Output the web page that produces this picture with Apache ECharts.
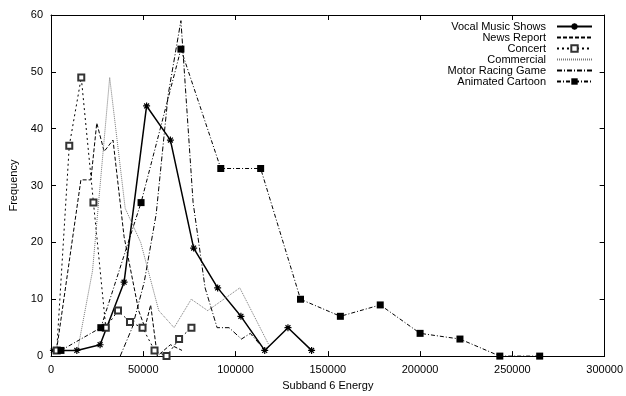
<!DOCTYPE html>
<html>
<head>
<meta charset="utf-8">
<script src="https://cdn.jsdelivr.net/npm/echarts@6/dist/echarts.min.js"></script>
<style>
  html, body { margin: 0; padding: 0; background: #fff; }
  #chart { width: 626px; height: 396px; }
</style>
</head>
<body>
<div id="chart"></div>
<script>
// Datos: [energia subbanda 6, frecuencia]
const seriesNames = ['Vocal Music Shows', 'News Report', 'Concert', 'Commercial', 'Motor Racing Game', 'Animated Cartoon'];

const vocal = [[1300,1],[14000,1],[26600,2],[39600,13],[51800,44],[64700,38],[77300,19],[90300,12],[102900,7],[115800,1],[128400,5],[141200,1]];
const news = [[3000,1],[16200,31],[21600,31],[24800,41],[28800,36],[33600,38],[39600,21],[47500,8],[50900,5],[54000,9],[57600,0],[64700,2],[71000,1]];
const concert = [[3100,1],[9900,37],[16400,49],[23000,27],[29700,5],[36300,8],[42800,6],[49600,5],[56100,1],[62600,0],[69400,3],[76100,5]];
const commercial = [[14400,1],[22500,15],[31800,49],[40200,26],[48600,20],[58400,8],[66700,5],[76000,10],[84900,8],[102300,12],[118000,2]];
const motor = [[37500,0],[44000,5],[50500,13],[57000,25],[63500,46],[70400,59],[77000,27],[83500,12],[90000,5],[96500,5],[103200,3],[108000,4],[113300,2]];
const cartoon = [[5400,1],[27000,5],[48800,27],[70400,54],[92000,33],[113600,33],[135200,10],[156800,7],[178400,9],[200000,4],[221600,3],[243200,0],[264800,0]];

const xTicks = [0, 300000, 50000];
const yTicks = [0, 60, 10];

const FONT = '"Liberation Sans", Arial, sans-serif';
const asterisk = 'path://M0 5L10 5M5 0L5 10M1.5 1.5L8.5 8.5M8.5 1.5L1.5 8.5';

const chart = echarts.init(document.getElementById('chart'));

function axisCommon(showLabels) {
    return {
        axisLine: { show: true, onZero: false, lineStyle: { color: '#000', width: 1 } },
        axisTick: { show: true, inside: true, length: 5, lineStyle: { color: '#000' } },
        axisLabel: {
            show: showLabels, color: '#000', fontSize: 11, fontFamily: FONT,
            formatter: function(v) { return String(v); }
        },
        splitLine: { show: false }
    };
}

// Series sin marcador: simbolo transparente para que la leyenda solo muestre la linea
const noMark = { color: 'rgba(0,0,0,0)', borderWidth: 0 };

chart.setOption({
    animation: false,
    backgroundColor: '#fff',
    grid: { left: 50, right: 20, top: 15, bottom: 34 },
    legend: {
        orient: 'vertical',
        right: 33,
        top: 21,
        padding: 0,
        align: 'right',
        itemWidth: 35,
        itemHeight: 8,
        itemGap: 0,
        textStyle: { color: '#000', fontSize: 11, lineHeight: 11, fontFamily: FONT, padding: [0, 6, 0, 0] },
        data: seriesNames
    },
    xAxis: [
        Object.assign({
            type: 'value', min: xTicks[0], max: xTicks[1], interval: xTicks[2],
            name: 'Subband 6 Energy', nameLocation: 'middle', nameGap: 22,
            nameTextStyle: { color: '#000', fontSize: 11, fontFamily: FONT }
        }, axisCommon(true)),
        Object.assign({
            type: 'value', position: 'top', min: xTicks[0], max: xTicks[1], interval: xTicks[2]
        }, axisCommon(false))
    ],
    yAxis: [
        Object.assign({
            type: 'value', min: yTicks[0], max: yTicks[1], interval: yTicks[2],
            name: 'Frequency', nameLocation: 'middle', nameGap: 32,
            nameTextStyle: { color: '#000', fontSize: 11, fontFamily: FONT }
        }, axisCommon(true)),
        Object.assign({
            type: 'value', position: 'right', min: yTicks[0], max: yTicks[1], interval: yTicks[2]
        }, axisCommon(false))
    ],
    series: [
        {
            name: seriesNames[0], type: 'line', data: vocal,
            symbol: asterisk, symbolSize: 7,
            lineStyle: { color: '#000', width: 1.5, type: 'solid' },
            itemStyle: { color: '#000', borderColor: '#000', borderWidth: 1.2 }
        },
        {
            name: seriesNames[1], type: 'line', data: news,
            symbol: 'none',
            lineStyle: { color: '#000', width: 1, type: [4, 2] },
            itemStyle: noMark
        },
        {
            name: seriesNames[2], type: 'line', data: concert,
            symbol: 'emptyRect', symbolSize: 6,
            lineStyle: { color: '#000', width: 1, type: [2, 3] },
            itemStyle: { color: '#333', borderColor: '#333', borderWidth: 1 }
        },
        {
            name: seriesNames[3], type: 'line', data: commercial,
            symbol: 'none',
            lineStyle: { color: '#777', width: 1, type: [1, 1] },
            itemStyle: noMark
        },
        {
            name: seriesNames[4], type: 'line', data: motor,
            symbol: 'none',
            lineStyle: { color: '#000', width: 1, type: [5, 2, 1, 2] },
            itemStyle: noMark
        },
        {
            name: seriesNames[5], type: 'line', data: cartoon,
            symbol: 'rect', symbolSize: 7,
            lineStyle: { color: '#000', width: 1, type: [4, 2, 1, 2] },
            itemStyle: { color: '#000' }
        }
    ]
});
</script>
</body>
</html>
